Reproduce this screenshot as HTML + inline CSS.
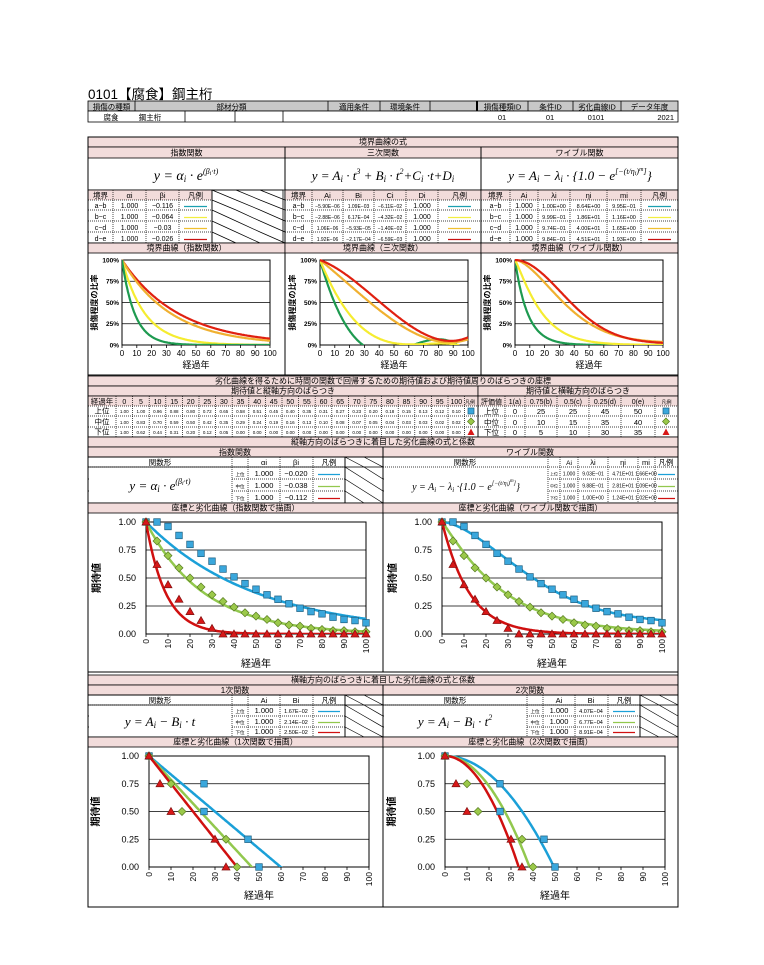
<!DOCTYPE html>
<html><head><meta charset="utf-8">
<style>
html,body{margin:0;padding:0;background:#fff;width:764px;height:965px;overflow:hidden}
svg{display:block;font-family:"Liberation Sans","Noto Sans CJK JP",sans-serif}
</style></head><body>
<svg id="s" width="764" height="965" viewBox="0 0 764 965" xmlns="http://www.w3.org/2000/svg"></svg>
<script>
var h='';var PK='#f2dcdb';var cid=0;
function R(x,y,w,hh,f,s,sw){h+='<rect x="'+x+'" y="'+y+'" width="'+w+'" height="'+hh+'" fill="'+(f||'none')+'" stroke="'+(s||'none')+'" stroke-width="'+(sw||0.8)+'"/>';}
function L(x1,y1,x2,y2,c,w,d){h+='<line x1="'+x1+'" y1="'+y1+'" x2="'+x2+'" y2="'+y2+'" stroke="'+(c||'#000')+'" stroke-width="'+(w||0.8)+'"'+(d?' stroke-dasharray="1,1"':'')+'/>';}
function T(x,y,s,fs,a,ex){h+='<text x="'+x+'" y="'+y+'" font-size="'+fs+'" text-anchor="'+(a||'middle')+'" '+(ex||'')+'>'+s+'</text>';}
function bar(x1,x2,y1,y2,s,fs){R(x1,y1,x2-x1,y2-y1,PK,'#000');T((x1+x2)/2,y2-2.3,s,fs||8);}
function grid(xs,ys,fillHeader){
  var x1=xs[0],x2=xs[xs.length-1],y1=ys[0],y2=ys[ys.length-1];
  if(fillHeader)R(x1,ys[0],x2-x1,ys[1]-ys[0],PK);
  for(var i=1;i<xs.length-1;i++)L(xs[i],y1,xs[i],y2,'#000',0.7,true);
  for(var j=1;j<ys.length-1;j++)L(x1,ys[j],x2,ys[j],'#000',0.7,true);
  R(x1,y1,x2-x1,y2-y1,'none','#000');
}
function hatch(xs,ys){for(var i=0;i<xs.length-1;i++)for(var j=0;j<ys.length-1;j++){L(xs[i],ys[j],xs[i+1],ys[j+1],'#000',0.7);}}
function cellText(xs,ys,row,col,s,fs,a){var x=(a=='end')?xs[col+1]-2:(xs[col]+xs[col+1])/2;T(x,ys[row+1]-2.2,s,fs||7,a||'middle');}

T(88,99,'0101【腐食】鋼主桁',13.5,'start');
var hx=[88,135,328,380,430,477,528,573,621,678];
R(88,101,590,10,'#c8c8c8','#000');
for(var i=1;i<hx.length-1;i++)L(hx[i],101,hx[i],122);
L(477,101,477,122,'#000',2);
var hl=['損傷の種類','部材分類','適用条件','環境条件','','損傷種類ID','条件ID','劣化曲線ID','データ年度'];
for(i=0;i<9;i++)T((hx[i]+hx[i+1])/2,109.5,hl[i],7.5);
R(88,111,590,11,'#fff','#000');
[185,235,283].forEach(function(x){L(x,111,x,122);});
T(111,120,'腐食',7.5);T(150,120,'鋼主桁',7.5);
T(502,120,'01',7.5);T(550,120,'01',7.5);T(596,120,'0101',7.5);T(674,120,'2021',7.5,'end');

R(88,137,590,770,'#fff','#000',1);
bar(88,678,137,147,'境界曲線の式');
bar(88,285,147,158,'指数関数');bar(285,481,147,158,'三次関数');bar(481,678,147,158,'ワイブル関数');
L(285,147,285,375,'#000',1);L(481,147,481,375,'#000',1);
var FS='font-family="Liberation Serif,serif" font-style="italic"';
T(186,180,'y = α<tspan font-size="9" dy="2">i</tspan><tspan dy="-2"> · e</tspan><tspan font-size="8" dy="-6">(β</tspan><tspan font-size="6" dy="1">i</tspan><tspan font-size="8" dy="-1">·t)</tspan>',14,'middle',FS);
T(383,180,'y = A<tspan font-size="9" dy="2">i</tspan><tspan dy="-2"> · t</tspan><tspan font-size="8" dy="-6">3</tspan><tspan dy="6"> + B</tspan><tspan font-size="9" dy="2">i</tspan><tspan dy="-2"> · t</tspan><tspan font-size="8" dy="-6">2</tspan><tspan dy="6">+C</tspan><tspan font-size="9" dy="2">i</tspan><tspan dy="-2"> ·t+D</tspan><tspan font-size="9" dy="2">i</tspan>',13,'middle',FS);
T(580,180,'y = A<tspan font-size="9" dy="2">i</tspan><tspan dy="-2"> − λ</tspan><tspan font-size="9" dy="2">i</tspan><tspan dy="-2"> · {1.0 − e</tspan><tspan font-size="8" dy="-6">[−(t/η</tspan><tspan font-size="6" dy="1">i</tspan><tspan font-size="8" dy="-1">)</tspan><tspan font-size="6" dy="-3">m</tspan><tspan font-size="8" dy="3">]</tspan><tspan dy="6">}</tspan>',13,'middle',FS);
L(88,190,678,190);
var ry=[190,200,210,221,232,243];
var lc=['#1aa0b0','#f2ee40','#f0c030','#c81010'];
var bnd=['a−b','b−c','c−d','d−e'];
var ex=[88,113,146,179,212,236,260,283];
grid([88,113,146,179,212],ry,true);R(212,190,71,53,'none','#000');
hatch([212,236,260,285],[190,200,210,221,232,243]);
['境界','αi','βi','凡例'].forEach(function(s,k){cellText(ex,ry,0,k,s,7.5);});
var ev=[['1.000','−0.116'],['1.000','−0.064'],['1.000','−0.03'],['1.000','−0.026']];
for(var r=0;r<4;r++){cellText(ex,ry,r+1,0,bnd[r],7);cellText(ex,ry,r+1,1,ev[r][0],7);cellText(ex,ry,r+1,2,ev[r][1],7);L(184,ry[r+2]-3.5,207,ry[r+2]-3.5,lc[r],1.2);}
var cx=[285,312,343,374,406,438,481];
grid(cx,ry,true);
['境界','Ai','Bi','Ci','Di','凡例'].forEach(function(s,k){cellText(cx,ry,0,k,s,7.5);});
var cv=[['−5.90E−06','1.09E−03','−6.11E−02'],['−2.88E−06','6.17E−04','−4.32E−02'],['1.06E−06','−5.93E−05','−1.40E−02'],['1.92E−06','−2.17E−04','−6.59E−03']];
for(r=0;r<4;r++){cellText(cx,ry,r+1,0,bnd[r],7);for(var k=0;k<3;k++)cellText(cx,ry,r+1,k+1,cv[r][k],5);cellText(cx,ry,r+1,4,'1.000',7);L(448,ry[r+2]-3.5,471,ry[r+2]-3.5,lc[r],1.2);}
var wx=[481,510,538,570,607,641,678];
grid(wx,ry,true);
['境界','Ai','λi','ηi','mi','凡例'].forEach(function(s,k){cellText(wx,ry,0,k,s,7.5);});
var wv=[['1.00E+00','8.64E+00','9.95E−01'],['9.99E−01','1.86E+01','1.16E+00'],['9.74E−01','4.00E+01','1.65E+00'],['9.84E−01','4.51E+01','1.93E+00']];
for(r=0;r<4;r++){cellText(wx,ry,r+1,0,bnd[r],7);cellText(wx,ry,r+1,1,'1.000',7);for(k=0;k<3;k++)cellText(wx,ry,r+1,k+2,wv[r][k],5.5);L(648,ry[r+2]-3.5,671,ry[r+2]-3.5,lc[r],1.2);}
bar(88,285,243,253,'境界曲線（指数関数）');bar(285,481,243,253,'境界曲線（三次関数）');bar(481,678,243,253,'境界曲線（ワイブル関数）');

function chart(o){
  cid++;var px=o.px,py=o.py,pw=o.pw,ph=o.ph;
  R(px,py,pw,ph,'#fff','#000',1);
  for(var i=1;i<4;i++)L(px,py+ph*i/4,px+pw,py+ph*i/4,'#000',0.8);
  for(i=0;i<=4;i++)T(px-o.ylx,py+ph*(1-i/4)+o.yfs*0.35,o.ylab[i],o.yfs,'end','font-weight="'+(o.ybold?'bold':'normal')+'"');
  for(var t=0;t<=100;t+=10){var x=px+pw*t/100;L(x,py+ph,x,py+ph+3,'#000',0.8);
    if(o.rot){var xx=x+o.xfs*0.35,yy=py+ph+5;T(xx,yy,t,o.xfs,'end','transform="rotate(-90 '+xx+' '+yy+')"');}
    else T(x,py+ph+o.xfs+3,t,o.xfs,'middle');}
  T(px+pw/2,o.xty,'経過年',o.xtfs,'middle');
  var ycx=o.ytx,ycy=py+ph/2;T(ycx,ycy,o.ytitle,o.ytfs,'middle','font-weight="bold" transform="rotate(-90 '+ycx+' '+ycy+')"');
  h+='<clipPath id="c'+cid+'"><rect x="'+px+'" y="'+(py-1)+'" width="'+(pw+1)+'" height="'+(ph+1)+'"/></clipPath><g clip-path="url(#c'+cid+')">';
  o.curves.forEach(function(c){var d='';for(var t=0;t<=100;t+=0.5){var y=c.f(t);if(y<-0.05)y=-0.05;if(y>1.05)y=1.05;d+=(t==0?'M':'L')+(px+pw*t/100).toFixed(1)+' '+(py+ph*(1-y)).toFixed(1);}
    h+='<path d="'+d+'" fill="none" stroke="'+c.c+'" stroke-width="'+(o.lw||2.5)+'" stroke-linejoin="round"/>';});
  h+='</g>';
  (o.pts||[]).forEach(function(p){p.d.forEach(function(q){var x=px+pw*q[0]/100,y=py+ph*(1-q[1]);var s=3.3;
    if(p.t=='s')h+='<rect x="'+(x-s)+'" y="'+(y-s)+'" width="'+(2*s)+'" height="'+(2*s)+'" fill="#3aa7dc" stroke="#1c5f80" stroke-width="0.7"/>';
    else if(p.t=='d')h+='<polygon points="'+x+','+(y-4)+' '+(x+4)+','+y+' '+x+','+(y+4)+' '+(x-4)+','+y+'" fill="#9bc94a" stroke="#567a20" stroke-width="0.7"/>';
    else h+='<polygon points="'+x+','+(y-4)+' '+(x+4)+','+(y+3)+' '+(x-4)+','+(y+3)+'" fill="#d81818" stroke="#801010" stroke-width="0.7"/>';});});
}
var C4=['#1e9a50','#f5ec30','#f0b030','#e02010'];
var pct=['0%','25%','50%','75%','100%'];
function sm(px,fs){chart({px:px,py:260,pw:148,ph:85,ylab:pct,ylx:3,yfs:6.5,ybold:true,xfs:8,xty:368,xtfs:9,ytx:px-25,ytitle:'損傷程度の比率',ytfs:8,curves:fs,lw:2.2});}
var eb=[-0.116,-0.064,-0.03,-0.026];
sm(122,[3,2,1,0].map(function(i){return {f:function(t){return Math.exp(eb[i]*t);},c:C4[i]};}));
var cc=[[-5.9e-6,1.09e-3,-6.11e-2],[-2.88e-6,6.17e-4,-4.32e-2],[1.06e-6,-5.93e-5,-1.40e-2],[1.92e-6,-2.17e-4,-6.59e-3]];
sm(320,[0,1,2,3].map(function(i){return {f:function(t){var y=cc[i][0]*t*t*t+cc[i][1]*t*t+cc[i][2]*t+1;return y<0?-0.2:y;},c:C4[i]};}));
var wb=[[1.0,8.64,0.995],[0.999,18.6,1.16],[0.974,40,1.65],[0.984,45.1,1.93]];
function wf(l,e,m){return function(t){return 1-l*(1-Math.exp(-Math.pow(t/e,m)));};}
sm(515,[0,1,2,3].map(function(i){return {f:wf(wb[i][0],wb[i][1],wb[i][2]),c:C4[i]};}));

L(88,375,678,375,'#000',1);
bar(88,678,376,386,'劣化曲線を得るために時間の関数で回帰するための期待値および期待値周りのばらつきの座標');
bar(88,478,386,396,'期待値と縦軸方向のばらつき');bar(478,678,386,396,'期待値と横軸方向のばらつき');
var s2y=[396,406,416,427,437];
var lx=[88,116];for(i=1;i<=21;i++)lx.push(116+i*16.6);lx.push(478);
grid(lx,s2y,true);
T(102,404,'経過年',7.5);for(i=0;i<21;i++)T((lx[i+1]+lx[i+2])/2,404,i*5,7);T(470,404,'凡例',5);
var up=[1,1,.96,.88,.8,.72,.65,.58,.51,.45,.4,.35,.31,.27,.23,.2,.18,.15,.13,.12,.1];
var md=[1,.83,.7,.59,.5,.42,.35,.29,.24,.19,.16,.13,.1,.08,.07,.05,.04,.03,.03,.02,.02];
var lo=[1,.62,.44,.31,.2,.12,.05,0,0,0,0,0,0,0,0,0,0,0,0,0,0];
var rn=['上位','中位','下位'];
[up,md,lo].forEach(function(a,r){T(102,s2y[r+2]-2.5,rn[r],7.5);a.forEach(function(v,i){T((lx[i+1]+lx[i+2])/2,s2y[r+2]-3,v.toFixed(2),4.5);});});
function mk(t,x,y){if(t=='s')R(x-3,y-3,6,6,'#3aa7dc','#1c5f80',0.7);else if(t=='d')h+='<polygon points="'+x+','+(y-3.5)+' '+(x+3.5)+','+y+' '+x+','+(y+3.5)+' '+(x-3.5)+','+y+'" fill="#9bc94a" stroke="#567a20" stroke-width="0.7"/>';else h+='<polygon points="'+x+','+(y-3.5)+' '+(x+3.5)+','+(y+3)+' '+(x-3.5)+','+(y+3)+'" fill="#d81818"/>';}
mk('s',471,411);mk('d',471,421.5);mk('t',471,432);
var rx=[478,505,525,557,589,621,655,678];
grid(rx,s2y,true);
['評価値','1(a)','0.75(b)','0.5(c)','0.25(d)','0(e)','凡例'].forEach(function(s,k){cellText(rx,s2y,0,k,s,k==6?5:7);});
var hv=[[0,25,25,45,50],[0,10,15,35,40],[0,5,10,30,35]];
hv.forEach(function(a,r){cellText(rx,s2y,r+1,0,rn[r],7.5);a.forEach(function(v,k){cellText(rx,s2y,r+1,k+1,v,7.5);});});
mk('s',666,411);mk('d',666,421.5);mk('t',666,432);

bar(88,678,437,447,'縦軸方向のばらつきに着目した劣化曲線の式と係数');
R(88,447,295,10,PK,'#000');T(235,455,'指数関数',8);R(383,447,295,10,PK,'#000');T(530,455,'ワイブル関数',8);
L(383,447,383,672,'#000',1);
var s3y=[457,467,479,491,503];
grid([88,232,248,280,313,345],s3y,false);R(88,457,295,10,'none','#000');
hatch([345,364,383],[457,467,479,491,503]);R(345,457,38,46,'none','#000');
T(160,465,'関数形',7.5);T(264,465,'αi',7.5);T(296,465,'βi',7.5);T(329,465,'凡例',7.5);
R(89,467.5,142.5,35,'#fff');
T(160,490,'y = α<tspan font-size="9" dy="2">i</tspan><tspan dy="-2"> · e</tspan><tspan font-size="8" dy="-6">(β</tspan><tspan font-size="6" dy="1">i</tspan><tspan font-size="8" dy="-1">·t)</tspan>',13,'middle',FS);
var BC=['#1ba0d8','#92c84e','#d01010'];
var ab=['−0.020','−0.038','−0.112'];
for(r=0;r<3;r++){var yy=s3y[r+2]-3;T(240,yy,rn[r],4.5);T(264,yy,'1.000',7.5);T(296,yy,ab[r],7.5);L(318,yy-1.5,340,yy-1.5,BC[r],1.2);}
var wx3=[383,548,560,578,608,638,655,678];
grid(wx3,s3y,false);
T(465,465,'関数形',7.5);T(569,465,'Ai',6.5);T(593,465,'λi',7.5);T(623,465,'ηi',7.5);T(646,465,'mi',7.5);T(666,465,'凡例',7.5);
R(384,467.5,163.5,35,'#fff');
T(466,490,'y = A<tspan font-size="7" dy="2">i</tspan><tspan dy="-2"> − λ</tspan><tspan font-size="7" dy="2">i</tspan><tspan dy="-2"> ·{1.0 − e</tspan><tspan font-size="6" dy="-5">[−(t/η</tspan><tspan font-size="5" dy="1">i</tspan><tspan font-size="6" dy="-1">)</tspan><tspan font-size="5" dy="-3">m</tspan><tspan font-size="6" dy="3">]</tspan><tspan dy="5">}</tspan>',10,'middle',FS);
var w3=[['9.03E−01','4.71E+01','1.66E+00'],['9.88E−01','2.81E+01','1.09E+00'],['1.00E+00','1.24E+01','1.02E+00']];
for(r=0;r<3;r++){yy=s3y[r+2]-3.5;T(554,yy,rn[r],4);T(569,yy,'1.000',5);T(593,yy,w3[r][0],5);T(623,yy,w3[r][1],5);T(646,yy,w3[r][2],5);L(658,yy-1,675,yy-1,BC[r],1.2);}
bar(88,383,503,513,'座標と劣化曲線（指数関数で描画）');bar(383,678,503,513,'座標と劣化曲線（ワイブル関数で描画）');
var dec=['0.00','0.25','0.50','0.75','1.00'];
function ptsOf(a){return a.map(function(v,i){return [i*5,v];});}
var P1=[{t:'s',d:ptsOf(up)},{t:'d',d:ptsOf(md)},{t:'t',d:ptsOf(lo)}];
function big(px,py,ph,ytx,xty,curves,pts){chart({px:px,py:py,pw:220,ph:ph,ylab:dec,ylx:10,yfs:9,xfs:8.5,rot:true,xty:xty,xtfs:10,ytx:ytx,ytitle:'期待値',ytfs:10,curves:curves,pts:pts,lw:2.5});}
var eb2=[-0.02,-0.038,-0.112];
big(146,522,112,100,667,[0,1,2].map(function(i){return {f:function(t){return Math.exp(eb2[i]*t);},c:BC[i]};}),P1);
var wb2=[[0.903,47.1,1.66],[0.988,28.1,1.09],[1.0,12.4,1.02]];
big(442,522,112,396,667,[0,1,2].map(function(i){return {f:wf(wb2[i][0],wb2[i][1],wb2[i][2]),c:BC[i]};}),P1);

L(88,672,678,672,'#000',1);
bar(88,678,675,685,'横軸方向のばらつきに着目した劣化曲線の式と係数');
R(88,685,295,10,PK,'#000');T(235,693,'1次関数',8);R(383,685,295,10,PK,'#000');T(530,693,'2次関数',8);
L(383,685,383,907,'#000',1);
var s4y=[695,705,716,727,737];
function coefTable(x0,form,vals){
  var xs=[x0,x0+144,x0+160,x0+192,x0+225,x0+257];
  grid(xs,s4y,false);R(x0,695,295,10,'none','#000');
  hatch([x0+257,x0+276,x0+295],s4y);R(x0+257,695,38,42,'none','#000');
  T(x0+72,703,'関数形',7.5);T(x0+176,703,'Ai',7.5);T(x0+208,703,'Bi',7.5);T(x0+241,703,'凡例',7.5);
  R(x0+1,705.5,142.5,31,'#fff');
  T(x0+72,726,form,13,'middle',FS);
  for(var r=0;r<3;r++){var yy=s4y[r+2]-3;T(x0+152,yy,rn[r],4.5);T(x0+176,yy,'1.000',7.5);T(x0+208,yy,vals[r],5.5);L(x0+230,yy-1.5,x0+252,yy-1.5,BC[r],1.2);}
}
coefTable(88,'y = A<tspan font-size="9" dy="2">i</tspan><tspan dy="-2"> − B</tspan><tspan font-size="9" dy="2">i</tspan><tspan dy="-2"> · t</tspan>',['1.67E−02','2.14E−02','2.50E−02']);
coefTable(383,'y = A<tspan font-size="9" dy="2">i</tspan><tspan dy="-2"> − B</tspan><tspan font-size="9" dy="2">i</tspan><tspan dy="-2"> · t</tspan><tspan font-size="8" dy="-6">2</tspan>',['4.07E−04','6.77E−04','8.91E−04']);
bar(88,383,737,747,'座標と劣化曲線（1次関数で描画）');bar(383,678,737,747,'座標と劣化曲線（2次関数で描画）');
var yv=[1,0.75,0.5,0.25,0];
function hp(a){return a.map(function(t,i){return [t,yv[i]];});}
var P2=[{t:'s',d:hp([0,25,25,45,50])},{t:'d',d:hp([0,10,15,35,40])},{t:'t',d:hp([0,5,10,30,35])}];
var lb=[1.67e-2,2.14e-2,2.5e-2],qb=[4.07e-4,6.77e-4,8.91e-4];
big(149,756,111,99,899,[0,1,2].map(function(i){return {f:function(t){return 1-lb[i]*t;},c:BC[i]};}),P2);
big(445,756,111,395,899,[0,1,2].map(function(i){return {f:function(t){return 1-qb[i]*t*t;},c:BC[i]};}),P2);
R(88,137,590,770,'none','#000',1);
document.getElementById('s').innerHTML=h;
</script>
</body></html>
